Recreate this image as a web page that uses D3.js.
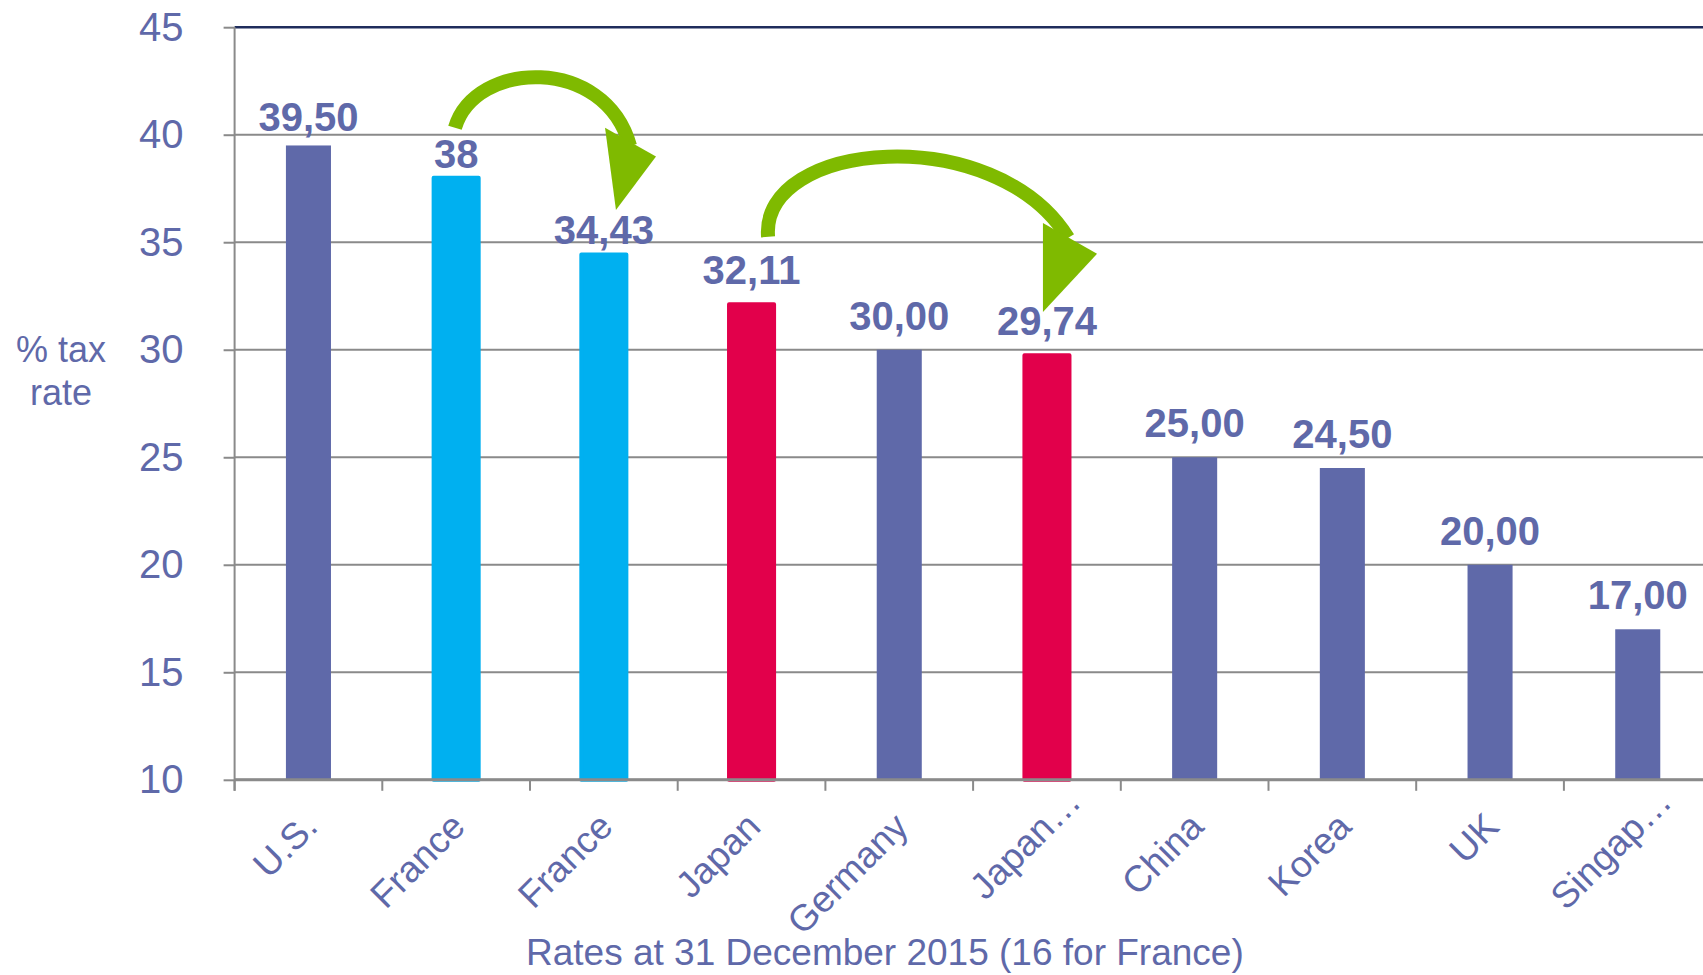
<!DOCTYPE html>
<html>
<head>
<meta charset="utf-8">
<script src="https://cdn.jsdelivr.net/npm/d3@7"></script>
<style>
  html, body { margin: 0; padding: 0; background: #fff; }
  svg { display: block; font-family: "Liberation Sans", Arial, sans-serif; }
</style>
</head>
<body>
<div id="chart"></div>
<script>
// ------------------------------------------------------------------ DATA
const categories = ['U.S.', 'France', 'France', 'Japan', 'Germany', 'Japan…', 'China', 'Korea', 'UK', 'Singap…'];
const rates      = [39.5, 38, 34.43, 32.11, 30, 29.74, 25, 24.5, 20, 17];
const rateLabels = ['39,50', '38', '34,43', '32,11', '30,00', '29,74', '25,00', '24,50', '20,00', '17,00'];
const groups     = ['other', 'france', 'france', 'japan', 'other', 'japan', 'other', 'other', 'other', 'other'];
const yTicks     = [10, 15, 20, 25, 30, 35, 40, 45];

const colours = { other: '#5f69a9', france: '#00b0f0', japan: '#e2004b' };
const textCol = '#5f69a9';

// ------------------------------------------------------------------ SIZE
const W = 1703, H = 975;
const plotLeft = 234.6, plotTop = 27.2, plotBottom = 779.8;
const step = 147.7;

const svg = d3.select('#chart').append('svg')
  .attr('width', W)
  .attr('height', H);

const idx = d3.range(categories.length);

const x = d3.scaleBand()
  .domain(idx)
  .range([plotLeft, plotLeft + step * categories.length])
  .paddingInner(0.695)
  .paddingOuter(0.3475);

const y = d3.scaleLinear()
  .domain([10, 45])
  .range([plotBottom, plotTop]);

// band position (0..n) -> pixel, used for the arrow annotations
const px = p => plotLeft + p * x.step();

// ------------------------------------------------------------------ GRID
svg.append('g')
  .selectAll('line')
  .data(yTicks)
  .join('line')
  .attr('x1', plotLeft)
  .attr('x2', W)
  .attr('y1', d => y(d))
  .attr('y2', d => y(d))
  .attr('stroke', d => d === 45 ? '#1f2d5c' : '#8a8a8a')
  .attr('stroke-width', d => d === 45 ? 2.5 : 2);

// ------------------------------------------------------------------ Y AXIS
const yAxis = svg.append('g')
  .attr('transform', `translate(${plotLeft},0)`)
  .call(d3.axisLeft(y).tickValues(yTicks).tickSize(11).tickPadding(40).tickFormat(d3.format('d')));

yAxis.select('.domain').remove();
yAxis.selectAll('.tick line').attr('stroke', '#8a8a8a').attr('stroke-width', 2);
yAxis.selectAll('.tick text')
  .attr('fill', textCol)
  .attr('font-size', 40)
  .attr('font-family', '"Liberation Sans", Arial, sans-serif');

svg.append('line')
  .attr('x1', plotLeft).attr('x2', plotLeft)
  .attr('y1', plotTop).attr('y2', plotBottom + 11)
  .attr('stroke', '#8a8a8a')
  .attr('stroke-width', 2);

// ------------------------------------------------------------------ BARS
svg.append('g')
  .selectAll('rect')
  .data(idx)
  .join('rect')
  .attr('x', i => x(i))
  .attr('width', x.bandwidth())
  .attr('y', i => y(rates[i]))
  .attr('height', i => y(10) - y(rates[i]))
  .attr('fill', i => colours[groups[i]])
  .attr('stroke', i => groups[i] === 'other' ? 'none' : colours[groups[i]])
  .attr('stroke-width', 4)
  .attr('stroke-linejoin', 'round');

// ------------------------------------------------------------------ X AXIS
svg.append('line')
  .attr('x1', plotLeft).attr('x2', W)
  .attr('y1', plotBottom).attr('y2', plotBottom)
  .attr('stroke', '#8a8a8a')
  .attr('stroke-width', 3);

svg.append('g')
  .selectAll('line')
  .data(idx)
  .join('line')
  .attr('x1', i => px(i))
  .attr('x2', i => px(i))
  .attr('y1', plotBottom)
  .attr('y2', plotBottom + 11)
  .attr('stroke', '#8a8a8a')
  .attr('stroke-width', 2);

svg.append('g')
  .selectAll('text')
  .data(idx)
  .join('text')
  .attr('transform', i => `translate(${x(i) + x.bandwidth() / 2 + 11},${plotBottom + 49}) rotate(-45)`)
  .attr('text-anchor', 'end')
  .attr('dx', i => categories[i].endsWith('…') ? '0.95em' : 0)
  .attr('font-size', 37)
  .attr('fill', textCol)
  .text(i => categories[i]);

// ------------------------------------------------------------------ VALUE LABELS
const labelGap = i => (i === 0 ? 14 : i < 3 ? 10 : 20);

svg.append('g')
  .selectAll('text')
  .data(idx)
  .join('text')
  .attr('x', i => x(i) + x.bandwidth() / 2)
  .attr('y', i => y(rates[i]) - labelGap(i))
  .attr('text-anchor', 'middle')
  .attr('font-size', 40)
  .attr('font-weight', 'bold')
  .attr('fill', textCol)
  .text(i => rateLabels[i]);

// ------------------------------------------------------------------ ARROWS (France -> France, Japan -> Japan…)
const arrows = [
  { path: [[1.492, 40.32], [1.628, 43.48], [2.508, 43.71], [2.677, 39.48]],
    head: [[2.508, 40.32], [2.853, 38.99], [2.582, 36.50]] },
  { path: [[3.612, 35.25], [3.557, 39.76], [5.148, 40.69], [5.643, 35.20]],
    head: [[5.473, 35.90], [5.839, 34.46], [5.473, 31.76]] }
];

const arrowG = svg.append('g');
arrows.forEach(a => {
  const p = a.path.map(([bp, v]) => [px(bp), y(v)]);
  const ctx = d3.path();
  ctx.moveTo(p[0][0], p[0][1]);
  ctx.bezierCurveTo(p[1][0], p[1][1], p[2][0], p[2][1], p[3][0], p[3][1]);
  arrowG.append('path')
    .attr('d', ctx.toString())
    .attr('fill', 'none')
    .attr('stroke', '#7fba00')
    .attr('stroke-width', 14);
  arrowG.append('polygon')
    .attr('points', a.head.map(([bp, v]) => [px(bp), y(v)].join(',')).join(' '))
    .attr('fill', '#7fba00');
});

// ------------------------------------------------------------------ TITLES
svg.append('text')
  .attr('x', 61)
  .attr('y', 362)
  .attr('text-anchor', 'middle')
  .attr('font-size', 36)
  .attr('fill', textCol)
  .selectAll('tspan')
  .data(['% tax', 'rate'])
  .join('tspan')
  .attr('x', 61)
  .attr('dy', (d, i) => i === 0 ? 0 : 43)
  .text(d => d);

svg.append('text')
  .attr('x', 526)
  .attr('y', 965)
  .attr('font-size', 37)
  .attr('fill', textCol)
  .text('Rates at 31 December 2015 (16 for France)');
</script>
</body>
</html>
